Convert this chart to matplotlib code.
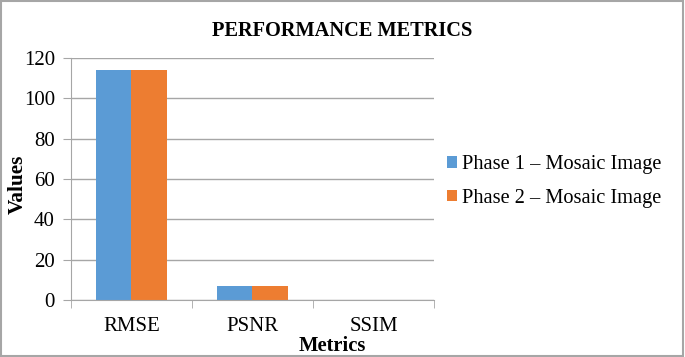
import numpy as np
import matplotlib
matplotlib.use("Agg")
import matplotlib.pyplot as plt
from matplotlib.patches import Rectangle

metrics = ["RMSE", "PSNR", "SSIM"]
phase1 = [114.2, 6.9, 0.1]
phase2 = [114.1, 6.9, 0.1]
series_names = ["Phase 1 \u2013 Mosaic Image", "Phase 2 \u2013 Mosaic Image"]
yticks = [0, 20, 40, 60, 80, 100, 120]

plt.rcParams['font.family'] = ['Liberation Serif', 'DejaVu Serif']

fig = plt.figure(figsize=(6.85, 3.57), dpi=100)
ax = fig.add_axes([0.1036, 0.1597, 0.530, 0.6778])

x = np.arange(len(metrics))
w = 0.29
ax.bar(x - w/2, phase1, w, color="#5B9BD5", label=series_names[0], zorder=3)
ax.bar(x + w/2, phase2, w, color="#ED7D31", label=series_names[1], zorder=3)

ax.set_xlim(-0.5, 2.5)
ax.set_ylim(0, 120)
ax.set_yticks(yticks)
ax.set_xticks(x)
ax.set_xticklabels(metrics)
ax.tick_params(axis='x', length=0, labelsize=15, pad=12.5)
ax.tick_params(axis='y', length=5.5, color="#A6A6A6", labelsize=15, pad=6)
# category boundary ticks
ax.set_xticks([-0.5, 0.5, 1.5, 2.5], minor=True)
ax.tick_params(axis='x', which='minor', length=6, color="#A6A6A6")

ax.grid(axis='y', color="#A6A6A6", linewidth=1, zorder=0)
for s in ["top", "right"]:
    ax.spines[s].set_visible(False)
for s in ["left", "bottom"]:
    ax.spines[s].set_color("#A6A6A6")
    ax.spines[s].set_zorder(4)

ax.set_xlabel("Metrics", fontsize=14.8, fontweight='bold')
ax.xaxis.set_label_coords(0.72, -0.148)
ax.set_ylabel("Values", fontsize=15.3, fontweight='bold')
ax.yaxis.set_label_coords(-0.118, 0.48)
fig.text(0.5, 0.912, "PERFORMANCE METRICS", ha='center', va='center',
         fontsize=14.7, fontweight='bold')

ax.legend(loc='center left', bbox_to_anchor=(0.985, 0.49), frameon=False,
          fontsize=14.7, handlelength=0.5, handleheight=0.5,
          handletextpad=0.25, labelspacing=0.72)

fig.patches.append(Rectangle((0.002, 0.003), 0.995, 0.993, transform=fig.transFigure,
                             fill=False, edgecolor="#A6A6A6", linewidth=1.5))

fig.savefig("out.png", dpi=100)
